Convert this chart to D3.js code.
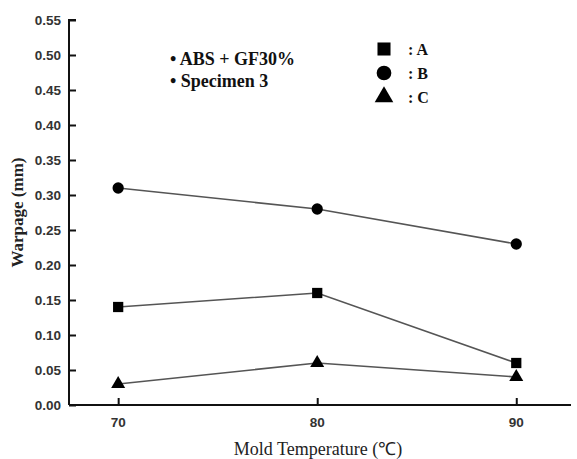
<!DOCTYPE html>
<html>
<head>
<meta charset="utf-8">
<script src="https://cdn.jsdelivr.net/npm/d3@7"></script>
<style>
  body { margin: 0; background: #fff; }
  svg { display: block; }
</style>
</head>
<body>
<div id="chart-area"></div>
<script>
// Data
const temps = [70, 80, 90];
const seriesA = [0.14, 0.16, 0.06];
const seriesB = [0.31, 0.28, 0.23];
const seriesC = [0.03, 0.06, 0.04];
const yTicks = [0, 0.05, 0.1, 0.15, 0.2, 0.25, 0.3, 0.35, 0.4, 0.45, 0.5, 0.55];
const notes = ["ABS + GF30%", "Specimen 3"];
const legendNames = ["A", "B", "C"];

(function () {
  const W = 577, H = 459;
  const svg = d3.select("#chart-area").append("svg")
    .attr("width", W).attr("height", H);

  // scales
  const x = d3.scaleLinear().domain([67.53, 92.75]).range([69, 571]);
  const y = d3.scaleLinear().domain([0, 0.55]).range([405, 20]);

  const sans = "Arial, 'Liberation Sans', sans-serif";
  const serif = "'Times New Roman', 'Liberation Serif', serif";

  // y axis
  const yAxis = svg.append("g")
    .attr("transform", `translate(${x.range()[0]},0)`)
    .call(d3.axisRight(y).tickValues(yTicks).tickSize(7).tickFormat(""));
  yAxis.select(".domain").attr("stroke", "#111").attr("stroke-width", 2).attr("d", `M7,${y(0.55)}H0V${y(0)}`);
  yAxis.selectAll(".tick line").attr("stroke", "#111").attr("stroke-width", 2);

  svg.append("g").selectAll("text").data(yTicks).join("text")
    .attr("x", 61).attr("y", d => y(d)).attr("dy", "0.36em")
    .attr("text-anchor", "end")
    .attr("font-family", sans).attr("font-weight", "bold").attr("font-size", 13.5)
    .attr("fill", "#333")
    .text(d => d3.format(".2f")(d));

  // x axis
  const xAxis = svg.append("g")
    .attr("transform", `translate(0,${y(0)})`)
    .call(d3.axisTop(x).tickValues(temps).tickSize(7).tickFormat(""));
  xAxis.select(".domain").attr("stroke", "#111").attr("stroke-width", 2).attr("d", `M${x.range()[0]},0H${x.range()[1]}`);
  xAxis.selectAll(".tick line").attr("stroke", "#111").attr("stroke-width", 2);

  svg.append("g").selectAll("text").data(temps).join("text")
    .attr("x", d => x(d)).attr("y", 427)
    .attr("text-anchor", "middle")
    .attr("font-family", sans).attr("font-weight", "bold").attr("font-size", 13.5)
    .attr("fill", "#333")
    .text(d => d);

  // axis titles
  svg.append("text")
    .attr("x", 318).attr("y", 455)
    .attr("text-anchor", "middle")
    .attr("font-family", serif).attr("font-size", 18).attr("fill", "#222")
    .text("Mold Temperature (\u2103)");

  svg.append("text")
    .attr("transform", `translate(23,${y(0.275)}) rotate(-90)`)
    .attr("text-anchor", "middle")
    .attr("font-family", serif).attr("font-weight", "bold").attr("font-size", 17).attr("fill", "#222")
    .text("Warpage (mm)");

  // series
  const series = [
    { name: "A", values: seriesA, symbol: d3.symbolSquare, size: 105 },
    { name: "B", values: seriesB, symbol: d3.symbolCircle, size: 100 },
    { name: "C", values: seriesC, symbol: d3.symbolTriangle, size: 85 }
  ];

  const line = d3.line().x((d, i) => x(temps[i])).y(d => y(d));

  series.forEach(s => {
    svg.append("path")
      .attr("d", line(s.values))
      .attr("fill", "none").attr("stroke", "#555").attr("stroke-width", 1.6);
    svg.append("g").selectAll("path").data(s.values).join("path")
      .attr("transform", (d, i) => `translate(${x(temps[i])},${y(d)})`)
      .attr("d", d3.symbol().type(s.symbol).size(s.size))
      .attr("fill", "#000");
  });

  // annotation
  svg.append("g").selectAll("text").data(notes).join("text")
    .attr("x", 170).attr("y", (d, i) => 65 + i * 22)
    .attr("font-family", serif).attr("font-weight", "bold").attr("font-size", 18).attr("fill", "#111")
    .text(d => "\u2022 " + d);

  // legend
  const leg = svg.append("g");
  series.forEach((s, i) => {
    const ly = 49 + i * 24;
    leg.append("path")
      .attr("transform", `translate(384,${ly})`)
      .attr("d", d3.symbol().type(s.symbol).size(s.symbol === d3.symbolTriangle ? 150 : 170))
      .attr("fill", "#000");
    leg.append("text")
      .attr("x", 408).attr("y", ly).attr("dy", "0.36em")
      .attr("font-family", serif).attr("font-weight", "bold").attr("font-size", 16).attr("fill", "#111")
      .text(": " + legendNames[i]);
  });
})();
</script>
</body>
</html>
